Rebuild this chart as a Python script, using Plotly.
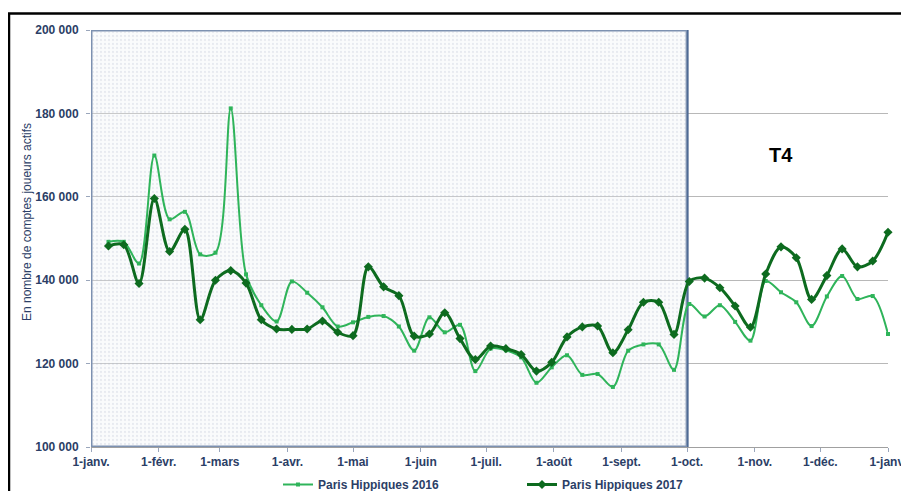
import plotly.graph_objects as go

# ---- data -------------------------------------------------------------
weeks = [
    "2017-01-09", "2017-01-16", "2017-01-23", "2017-01-30",
    "2017-02-06", "2017-02-13", "2017-02-20", "2017-02-27",
    "2017-03-06", "2017-03-13", "2017-03-20", "2017-03-27",
    "2017-04-03", "2017-04-10", "2017-04-17", "2017-04-24",
    "2017-05-01", "2017-05-08", "2017-05-15", "2017-05-22", "2017-05-29",
    "2017-06-05", "2017-06-12", "2017-06-19", "2017-06-26",
    "2017-07-03", "2017-07-10", "2017-07-17", "2017-07-24", "2017-07-31",
    "2017-08-07", "2017-08-14", "2017-08-21", "2017-08-28",
    "2017-09-04", "2017-09-11", "2017-09-18", "2017-09-25",
    "2017-10-02", "2017-10-09", "2017-10-16", "2017-10-23", "2017-10-30",
    "2017-11-06", "2017-11-13", "2017-11-20", "2017-11-27",
    "2017-12-04", "2017-12-11", "2017-12-18", "2017-12-25",
    "2018-01-01",
]

paris_hippiques_2016 = [
    149200, 149200, 144000, 169900, 154600, 156400, 146200, 146600, 181200, 141400,
    134000, 130100, 139700, 137000, 133500, 128900, 129900, 131200, 131400, 128900,
    123100, 131100, 127500, 129300, 118200, 123600, 123200, 121500, 115400, 119100,
    122000, 117300, 117500, 114400, 123100, 124600, 124600, 118500, 134300, 131300,
    134000, 130000, 125500, 139800, 137100, 134700, 129000, 136100, 141000, 135500,
    136200, 127100,
]

paris_hippiques_2017 = [
    148200, 148500, 139200, 159600, 146900, 152200, 130500, 140000, 142300, 139300,
    130500, 128300, 128200, 128300, 130200, 127500, 126700, 143200, 138400, 136300,
    126600, 127100, 132200, 126000, 121000, 124200, 123600, 122200, 118200, 120300,
    126400, 128800, 129000, 122600, 128100, 134700, 134700, 127000, 139700, 140500,
    138200, 133800, 128700, 141500, 148000, 145400, 135400, 141100, 147500, 143200,
    144600, 151500,
]

month_ticks = [
    "2017-01-01", "2017-02-01", "2017-03-01", "2017-04-01", "2017-05-01",
    "2017-06-01", "2017-07-01", "2017-08-01", "2017-09-01", "2017-10-01",
    "2017-11-01", "2017-12-01", "2018-01-01",
]
month_labels = [
    "1-janv.", "1-févr.", "1-mars", "1-avr.", "1-mai", "1-juin", "1-juil.",
    "1-août", "1-sept.", "1-oct.", "1-nov.", "1-déc.", "1-janv.",
]

y_ticks = [100000, 120000, 140000, 160000, 180000, 200000]
y_labels = ["100 000", "120 000", "140 000", "160 000", "180 000", "200 000"]

period_start = "2017-01-01"
period_end = "2017-10-01"
y_min, y_max = 100000, 200000

# ---- styles -----------------------------------------------------------
FONT = "Liberation Sans, Arial, sans-serif"
NAVY = "#2b3e66"
LIGHT = "#2fb45a"
DARK = "#0d6b1f"
BORDER = "#4a6692"

# plot area in figure pixels (page has an 8px body offset)
L, T, B, R = 83, 22, 52, 29
PW, PH = 909 - L - R, 491 - T - B


def px(xf):
    return (xf - L) / PW


def py(yf):
    return (491 - B - yf) / PH


fig = go.Figure()

# shaded (dotted) area for the first three quarters
fig.add_trace(go.Scatter(
    x=[period_start, period_end, period_end, period_start, period_start],
    y=[y_min, y_min, y_max, y_max, y_min],
    fill="toself", mode="lines", line=dict(width=0),
    fillcolor="rgba(235,240,248,0.3)",
    fillpattern=dict(shape=".", size=4, solidity=0.25,
                     fgcolor="rgba(175,185,205,0.5)",
                     bgcolor="rgba(240,243,248,0.3)"),
    showlegend=False, hoverinfo="skip",
))

fig.add_trace(go.Scatter(
    x=weeks, y=paris_hippiques_2016, name="Paris Hippiques 2016",
    mode="lines+markers", line=dict(color=LIGHT, width=2, shape="spline", smoothing=0.9),
    marker=dict(symbol="square", size=4, color=LIGHT),
    cliponaxis=False, legend="legend",
))
fig.add_trace(go.Scatter(
    x=weeks, y=paris_hippiques_2017, name="Paris Hippiques 2017",
    mode="lines+markers", line=dict(color=DARK, width=3, shape="spline", smoothing=0.9),
    marker=dict(symbol="diamond", size=7, color=DARK),
    cliponaxis=False, legend="legend2",
))

legend_y = py(462)
fig.update_layout(
    width=909, height=491,
    margin=dict(l=L, r=R, t=T, b=B, autoexpand=False),
    paper_bgcolor="white", plot_bgcolor="white",
    font=dict(family=FONT, color=NAVY),
    legend=dict(orientation="h", x=px(270), xanchor="left",
                y=legend_y, yanchor="top", bgcolor="rgba(0,0,0,0)",
                font=dict(family=FONT, size=12, color=NAVY, weight="bold")),
    legend2=dict(orientation="h", x=px(514), xanchor="left",
                 y=legend_y, yanchor="top", bgcolor="rgba(0,0,0,0)",
                 font=dict(family=FONT, size=12, color=NAVY, weight="bold")),
    xaxis=dict(
        type="date", range=["2017-01-01", "2018-01-01"],
        tickvals=month_ticks, ticktext=month_labels,
        ticks="outside", ticklen=4, tickcolor="#9aa6bb",
        showgrid=False, showline=True, linecolor="#a0a0a0", linewidth=1,
        tickfont=dict(family=FONT, size=12, color=NAVY, weight="bold"),
        zeroline=False, automargin=False,
    ),
    yaxis=dict(
        range=[y_min, y_max], tickvals=y_ticks, ticktext=y_labels,
        ticks="outside", ticklen=4, tickcolor="#9aa6bb",
        showgrid=True, gridcolor="#b8b8b8", gridwidth=1,
        showline=False, zeroline=False,
        tickfont=dict(family=FONT, size=12, color=NAVY, weight="bold"),
        ticklabelstandoff=5, automargin=False,
    ),
    shapes=[
        dict(type="rect", xref="x", yref="y", x0=period_start, x1=period_end,
             y0=y_min, y1=y_max, line=dict(color=BORDER, width=3), layer="between"),
        dict(type="rect", xref="paper", yref="paper",
             x0=px(1), x1=px(960), y0=py(560), y1=py(5.5),
             line=dict(color="black", width=2.5), layer="above"),
    ],
    annotations=[
        dict(text="T4", xref="x", yref="y", x="2017-11-13", y=170000,
             showarrow=False, font=dict(family=FONT, size=20, color="black", weight="bold")),
        dict(text="En nombre de comptes joueurs actifs", xref="paper", yref="paper",
             x=px(10), y=py(214), textangle=-90, showarrow=False,
             font=dict(family=FONT, size=12, color=NAVY)),
    ],
)

fig.write_html("out.html")
